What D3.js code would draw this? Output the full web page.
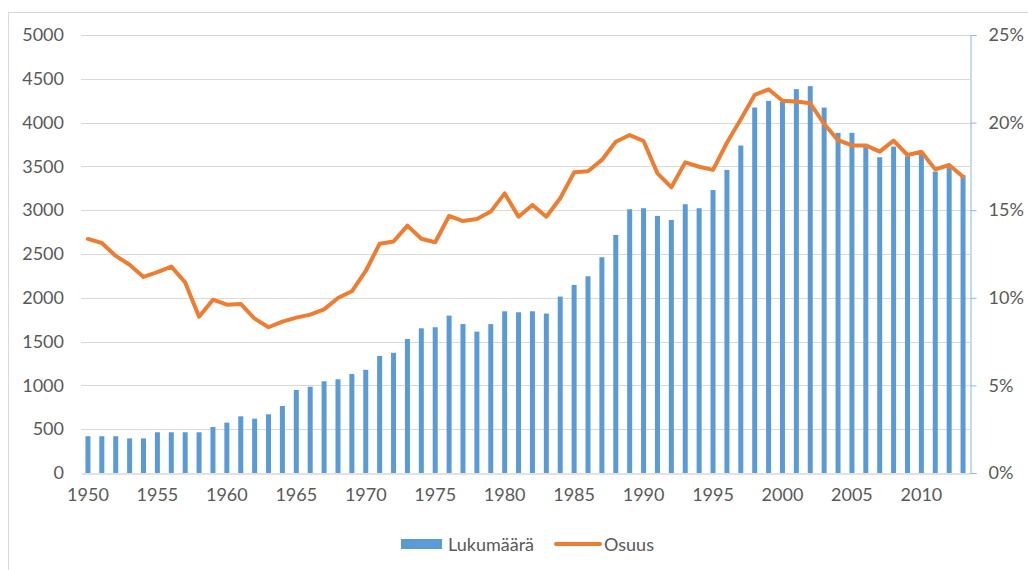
<!DOCTYPE html>
<html>
<head>
<meta charset="utf-8">
<script src="https://cdn.jsdelivr.net/npm/d3@7"></script>
<style>
  html, body { margin: 0; padding: 0; background: #fff; }
  svg { display: block; font-family: Lato, "Open Sans", sans-serif; }
</style>
</head>
<body>
<svg id="chart" width="1028" height="570"></svg>
<script>
// ---- data ----
const years = d3.range(1950, 2014);
const lukumaara = [
  420, 420, 420, 395, 395, 465, 465, 465, 465, 525,
  575, 647, 620, 670, 765, 948, 985, 1047, 1070, 1130,
  1178, 1336, 1372, 1530, 1652, 1664, 1797, 1700, 1614, 1700,
  1846, 1835, 1846, 1820, 2014, 2147, 2246, 2463, 2718, 3011,
  3023, 2935, 2889, 3068, 3023, 3230, 3460, 3738, 4172, 4248,
  4235, 4382, 4416, 4172, 3883, 3883, 3745, 3605, 3726, 3615,
  3650, 3441, 3491, 3400
];
const osuus = [
  13.36, 13.13, 12.39, 11.89, 11.19, 11.47, 11.78, 10.88, 8.92, 9.89,
  9.61, 9.65, 8.81, 8.32, 8.64, 8.87, 9.04, 9.34, 9.99, 10.37,
  11.53, 13.09, 13.21, 14.12, 13.37, 13.17, 14.67, 14.38, 14.5, 14.92,
  15.96, 14.63, 15.3, 14.63, 15.68, 17.16, 17.22, 17.87, 18.91, 19.29,
  18.95, 17.1, 16.31, 17.73, 17.48, 17.3, 18.85, 20.19, 21.58, 21.9,
  21.25, 21.21, 21.1, 19.92, 19.0, 18.7, 18.7, 18.34, 18.97, 18.15,
  18.34, 17.33, 17.58, 16.91
];
const leftTicks = d3.range(0, 5001, 500);
const rightTicks = [0, 5, 10, 15, 20, 25];
const xTickYears = d3.range(1950, 2011, 5);
const seriesNames = ["Lukumäärä", "Osuus"];

// ---- layout ----
const svg = d3.select("#chart");
const plotLeft = 81, plotRight = 970, plotTop = 35, plotBottom = 473;
const textColor = "#595959";
const barColor = "#5B9BD5";
const lineColor = "#ED7D31";
const gridColor = "#D9D9D9";
const fontFam = "Lato, 'Open Sans', sans-serif";
const fontSize = "18px";

// chart frame
svg.append("rect")
  .attr("x", 8.5).attr("y", 12.5)
  .attr("width", 1040).attr("height", 600)
  .attr("fill", "none").attr("stroke", "#D9D9D9").attr("stroke-width", 1);

const x = d3.scaleBand().domain(years).range([plotLeft, plotRight])
  .paddingInner(0.64).paddingOuter(0.32);
const yL = d3.scaleLinear().domain([0, 5000]).range([plotBottom, plotTop]);
const yR = d3.scaleLinear().domain([0, 25]).range([plotBottom, plotTop]);

// gridlines
svg.append("g").selectAll("line")
  .data(leftTicks.filter(d => d > 0))
  .join("line")
  .attr("x1", plotLeft).attr("x2", plotRight)
  .attr("y1", d => Math.round(yL(d)) + 0.5).attr("y2", d => Math.round(yL(d)) + 0.5)
  .attr("stroke", gridColor).attr("stroke-width", 1);

// left axis
const gL = svg.append("g").attr("transform", `translate(${plotLeft - 17},0)`)
  .call(d3.axisLeft(yL).tickValues(leftTicks).tickSize(0).tickPadding(0).tickFormat(d3.format("d")));
gL.select(".domain").remove();
gL.selectAll("text").attr("fill", textColor).style("font-size", fontSize)
  .style("font-family", fontFam);

// bars
svg.append("g").selectAll("rect")
  .data(years.map((y, i) => ({ year: y, v: lukumaara[i] })))
  .join("rect")
  .attr("x", d => x(d.year))
  .attr("width", x.bandwidth())
  .attr("y", d => yL(d.v))
  .attr("height", d => plotBottom - yL(d.v))
  .attr("fill", barColor);

// x axis
const gX = svg.append("g").attr("transform", `translate(0,${plotBottom + 0.5})`)
  .call(d3.axisBottom(x).tickValues(xTickYears).tickSize(0).tickPadding(15).tickSizeOuter(0));
gX.select(".domain").attr("stroke", gridColor).attr("stroke-width", 1.5);
gX.selectAll("text").attr("fill", textColor).style("font-size", fontSize)
  .style("font-family", fontFam);

// right axis
const gR = svg.append("g").attr("transform", `translate(${plotRight + 0.5},0)`)
  .call(d3.axisRight(yR).tickValues(rightTicks).tickSize(6).tickSizeOuter(6).tickPadding(12)
    .tickFormat(d => d + "%"));
gR.select(".domain").attr("stroke", "#8DB6E0");
gR.selectAll(".tick line").attr("stroke", "#8DB6E0");
gR.selectAll("text").attr("fill", textColor).style("font-size", fontSize)
  .style("font-family", fontFam);

// line
const line = d3.line()
  .x((d, i) => x(years[i]) + x.bandwidth() / 2)
  .y(d => yR(d));
svg.append("path")
  .datum(osuus)
  .attr("d", line)
  .attr("fill", "none")
  .attr("stroke", lineColor)
  .attr("stroke-width", 4)
  .attr("stroke-linejoin", "round")
  .attr("stroke-linecap", "round");

// legend
const lg = svg.append("g");
lg.append("rect").attr("x", 401).attr("y", 539).attr("width", 41).attr("height", 10).attr("fill", barColor);
lg.append("text").attr("x", 448).attr("y", 550.5).text(seriesNames[0])
  .attr("fill", textColor).style("font-size", fontSize).style("font-family", fontFam);
lg.append("line").attr("x1", 556).attr("x2", 600).attr("y1", 544).attr("y2", 544)
  .attr("stroke", lineColor).attr("stroke-width", 4).attr("stroke-linecap", "round");
lg.append("text").attr("x", 604).attr("y", 550.5).text(seriesNames[1])
  .attr("fill", textColor).style("font-size", fontSize).style("font-family", fontFam);
</script>
</body>
</html>
